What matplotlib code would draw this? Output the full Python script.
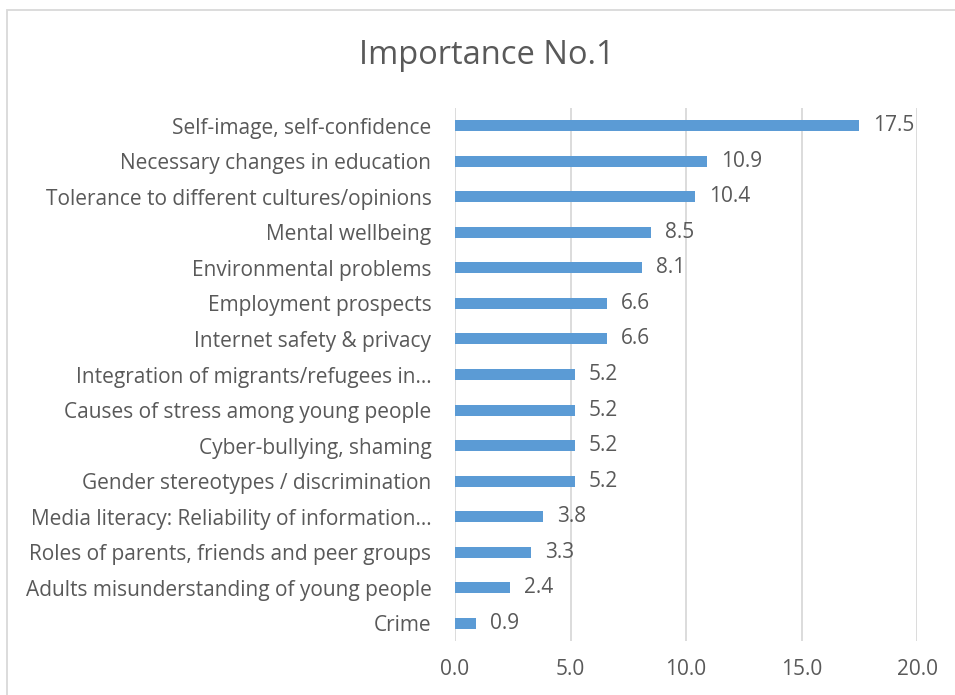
import matplotlib.pyplot as plt
from matplotlib.patches import Rectangle

plt.rcParams['font.family'] = ['Open Sans', 'DejaVu Sans']

# Share of respondents ranking each topic as their no.1 priority
topics = [
    "Self-image, self-confidence",
    "Necessary changes in education",
    "Tolerance to different cultures/opinions",
    "Mental wellbeing",
    "Environmental problems",
    "Employment prospects",
    "Internet safety & privacy",
    "Integration of migrants/refugees in\u2026",
    "Causes of stress among young people",
    "Cyber-bullying, shaming",
    "Gender stereotypes / discrimination",
    "Media literacy: Reliability of information\u2026",
    "Roles of parents, friends and peer groups",
    "Adults misunderstanding of young people",
    "Crime",
]
scores = [17.5, 10.9, 10.4, 8.5, 8.1, 6.6, 6.6, 5.2, 5.2, 5.2, 5.2, 3.8, 3.3, 2.4, 0.9]
x_ticks = [0, 5, 10, 15, 20]

text_col = '#595959'
bar_col = '#5B9BD5'
fs = 15

fig = plt.figure(figsize=(9.55, 6.95), dpi=100)
ax = fig.add_axes([455 / 955, 1 - 641 / 695, 462 / 955, 533 / 695])

ypos = list(range(len(topics)))[::-1]
ax.barh(ypos, scores, height=0.31, color=bar_col, zorder=3)
for y, v in zip(ypos, scores):
    ax.text(v + 0.6, y, f"{v:.1f}", va='center', ha='left',
            fontsize=fs, color=text_col)

ax.set_xlim(0, 20)
ax.set_ylim(-0.5, len(topics) - 0.5)
ax.set_xticks(x_ticks)
ax.set_xticklabels([f"{t:.1f}" for t in x_ticks])
ax.set_yticks(ypos)
ax.set_yticklabels(topics)
ax.tick_params(axis='y', length=0, pad=17, labelsize=fs, labelcolor=text_col)
ax.tick_params(axis='x', length=0, pad=13, labelsize=fs, labelcolor=text_col)
ax.grid(axis='x', color='#D9D9D9', linewidth=1.3, zorder=0)
for s in ax.spines.values():
    s.set_visible(False)

fig.text(487 / 955, 1 - 55 / 695, "Importance No.1", ha='center', va='center',
         fontsize=23.5, color=text_col)

# chart frame
fig.patches.append(Rectangle((7 / 955, -0.05), 1.1, 1 - 10 / 695 + 0.05,
                             transform=fig.transFigure, fill=False,
                             edgecolor='#D9D9D9', linewidth=1.3))

fig.savefig('out.png', dpi=100)
